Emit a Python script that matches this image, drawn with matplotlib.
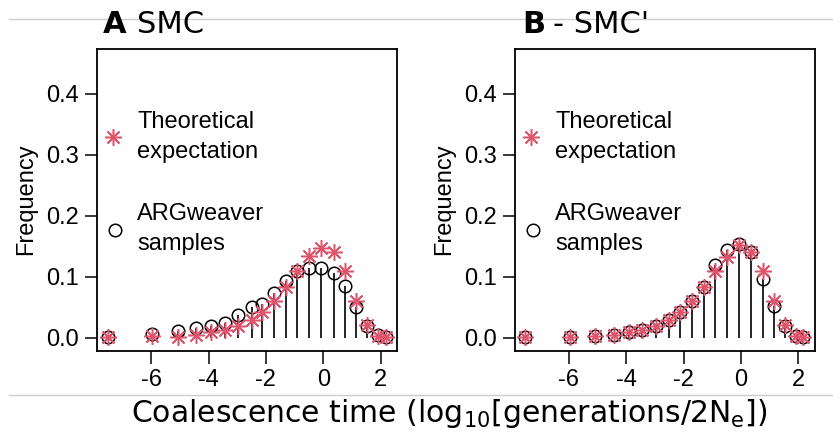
import numpy as np
import matplotlib.pyplot as plt

# discretised coalescence times (log10 scale), shared by both panels
log_time = [-7.52, -5.98, -5.08, -4.43, -3.90, -3.44, -2.96, -2.50, -2.12, -1.72,
            -1.30, -0.90, -0.49, -0.08, 0.36, 0.76, 1.14, 1.52, 1.92, 2.17]

# panel A: SMC
smc_sampled = [0.001, 0.0066, 0.011, 0.017, 0.020, 0.025, 0.038, 0.050, 0.056, 0.073,
               0.093, 0.110, 0.115, 0.114, 0.106, 0.085, 0.051, 0.020, 0.005, 0.001]
smc_theory = [0.001, 0.003, 0.002, 0.005, 0.009, 0.013, 0.019, 0.030, 0.043, 0.060,
              0.083, 0.109, 0.135, 0.148, 0.140, 0.109, 0.061, 0.021, 0.004, 0.001]

# panel B: SMC'
smcp_sampled = [0.001, 0.002, 0.003, 0.005, 0.009, 0.013, 0.019, 0.030, 0.042, 0.061,
                0.083, 0.119, 0.144, 0.154, 0.140, 0.097, 0.052, 0.019, 0.003, 0.001]
smcp_theory = [0.001, 0.002, 0.003, 0.005, 0.009, 0.013, 0.019, 0.030, 0.043, 0.060,
               0.083, 0.109, 0.133, 0.153, 0.140, 0.109, 0.061, 0.021, 0.004, 0.001]

x_ticks = [-6, -4, -2, 0, 2]
y_ticks = [0.0, 0.1, 0.2, 0.3, 0.4]

RED = '#DF536B'
W, H = 833, 437
tick_font = 'Liberation Sans'

fig = plt.figure(figsize=(W / 100, H / 100), dpi=100)

# thin grey page lines
for yp in (19, 395):
    fig.add_artist(plt.Line2D([9 / W, 1], [1 - yp / H, 1 - yp / H],
                              color='#cccccc', lw=1.0, zorder=0))


def draw_panel(left_px, sampled, theory):
    ax = fig.add_axes([left_px / W, (H - 350.5) / H, 300 / W, 302 / H])
    ax.vlines(log_time, 0, sampled, color='black', lw=1.2, zorder=2)
    ax.plot(log_time, sampled, 'o', mfc='none', mec='black', ms=9, mew=1.1, zorder=3)
    ax.plot(log_time, theory, ls='none', marker=(8, 2, 0), color=RED, ms=12, mew=1.1, zorder=4)
    ax.set_xlim(-7.90, 2.56)
    ax.set_ylim(-0.0205, 0.474)
    ax.set_xticks(x_ticks)
    ax.set_yticks(y_ticks)
    ax.set_xticklabels([str(t) for t in x_ticks], family=tick_font, fontsize=17)
    ax.set_yticklabels(['%.1f' % t for t in y_ticks], family=tick_font, fontsize=17)
    ax.tick_params(length=9, width=1.1, pad=4)
    for s in ax.spines.values():
        s.set_linewidth(1.3)
    # legend drawn by hand, like the R original
    ax.plot([0.054], [0.708], ls='none', marker=(8, 2, 0), color=RED, ms=12, mew=1.1,
            transform=ax.transAxes, clip_on=False)
    ax.text(0.135, 0.706, 'Theoretical\nexpectation', transform=ax.transAxes,
            family=tick_font, fontsize=17, va='center', ha='left', linespacing=1.45)
    ax.plot([0.06], [0.40], 'o', mfc='none', mec='black', ms=9, mew=1.1,
            transform=ax.transAxes, clip_on=False)
    ax.text(0.135, 0.402, 'ARGweaver\nsamples', transform=ax.transAxes,
            family=tick_font, fontsize=17, va='center', ha='left', linespacing=1.45)
    return ax


ax_a = draw_panel(96.7, smc_sampled, smc_theory)
ax_b = draw_panel(514.5, smcp_sampled, smcp_theory)
ax_a.set_ylabel('Frequency', family=tick_font, fontsize=17, labelpad=6)
ax_b.set_ylabel('Frequency', family=tick_font, fontsize=17, labelpad=6)

# panel titles
fig.text(103 / W, 1 - 33 / H, 'A', fontsize=22, fontweight='bold', va='baseline')
fig.text(137 / W, 1 - 33 / H, 'SMC', fontsize=22, va='baseline')
fig.text(522 / W, 1 - 33 / H, 'B', fontsize=22, fontweight='bold', va='baseline')
fig.text(553 / W, 1 - 33 / H, "- SMC'", fontsize=22, va='baseline')

fig.text(449 / W, 1 - 413 / H,
         r'Coalescence time (log$_{10}$[generations/2N$_{\mathrm{e}}$])',
         fontsize=21.5, ha='center', va='center')

fig.savefig('out.png', dpi=100)
